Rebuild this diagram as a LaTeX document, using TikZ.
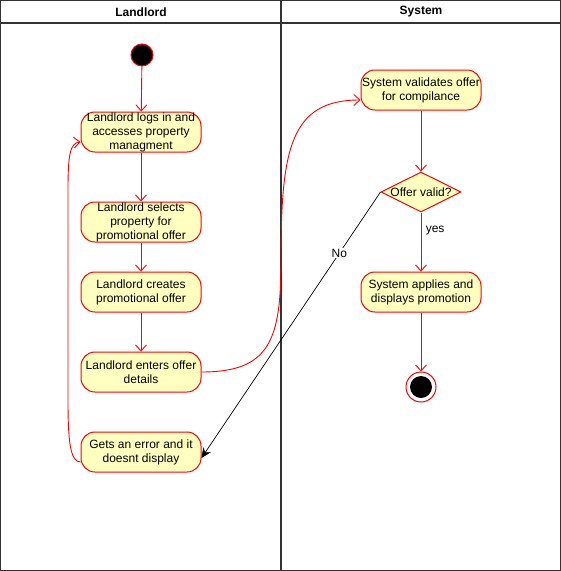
\documentclass[tikz,border=0pt]{standalone}
\usepackage{fontspec}
\setmainfont{Liberation Sans}
\usetikzlibrary{arrows.meta,shapes.geometric}
\definecolor{actfill}{HTML}{FFFFC0}
\definecolor{laneline}{HTML}{333333}
\begin{document}
\begin{tikzpicture}[x=1pt,y=-1pt,
  lane/.style={draw=laneline, line width=1.3pt},
  head/.style={font=\fontsize{12}{14}\selectfont\bfseries},
  act/.style={draw=red, line width=1pt, fill=actfill, rounded corners=14pt, minimum width=120pt,
    minimum height=40pt, align=center, inner sep=0pt,
    font=\fontsize{12}{14}\selectfont},
  decision/.style={diamond, draw=red, line width=1pt, fill=actfill, minimum width=80pt,
    minimum height=40pt, aspect=2, inner sep=0pt, font=\fontsize{12}{14}\selectfont},
  flow/.style={draw=red, line width=0.9pt, -{Straight Barb[length=6pt,width=11pt]}},
  guard/.style={font=\fontsize{12}{14}\selectfont},
]
\useasboundingbox (0,0) rectangle (561,571);

% swimlanes
\draw[lane] (0.7,0.7) rectangle (560.3,570.3);
\draw[lane] (0.7,23) -- (560.3,23);
\draw[lane] (281,0.7) -- (281,570.3);
\node[head] (hL) at (141,12) {Landlord};
\node[head] (hS) at (421,12) {System};

% Landlord lane
\node[circle, draw=red, line width=1pt, fill=black, minimum size=22pt, inner sep=0pt] (start) at (142,55) {};
\node[act] (login)   at (141,132) {Landlord logs in and\\accesses property\\managment};
\node[act] (select)  at (141,222) {Landlord selects\\property for\\promotional offer};
\node[act] (create)  at (141,292) {Landlord creates\\promotional offer};
\node[act] (enter)   at (141,372) {Landlord enters offer\\details};
\node[act] (error)   at (141,452) {Gets an error and it\\doesnt display};

% System lane
\node[act] (validate) at (421,90) {System validates offer\\for compilance};
\node[decision] (valid) at (421,192) {Offer valid?};
\node[act] (apply)    at (421,292) {System applies and\\displays promotion};
\node[circle, draw=red, line width=1pt, fill=white, minimum size=30pt, inner sep=0pt] (stop) at (421,387) {};
\node[circle, fill=black, minimum size=22pt, inner sep=0pt] (stopdot) at (stop) {};

% flows
\draw[flow] (start) -- (login);
\draw[flow] (login) -- (select);
\draw[flow] (select) -- (create);
\draw[flow] (create) -- (enter);
\draw[flow] (enter.east) .. controls (270,372) and (281,340) .. (281,260)
  .. controls (281,150) and (290,100) .. ([yshift=-10pt]validate.west);
\draw[flow] ([yshift=-10pt]error.west) .. controls (70,462) and (68,440) .. (68,400)
  -- (68,190) .. controls (68,155) and (70,143) .. ([yshift=-10pt]login.west);
\draw[flow] (validate) -- (valid);
\draw[flow] (valid) -- node[guard, right, pos=0.3, xshift=1pt] (yes) {yes} (apply);
\draw[flow] (apply) -- (stop);
\draw[black, line width=0.7pt, -{Stealth[length=10pt,width=9pt]}] (valid.west)
  -- node[guard, fill=white, inner sep=1pt, pos=0.23] (no) {No} ([yshift=-6pt]error.east);
\end{tikzpicture}
\end{document}
